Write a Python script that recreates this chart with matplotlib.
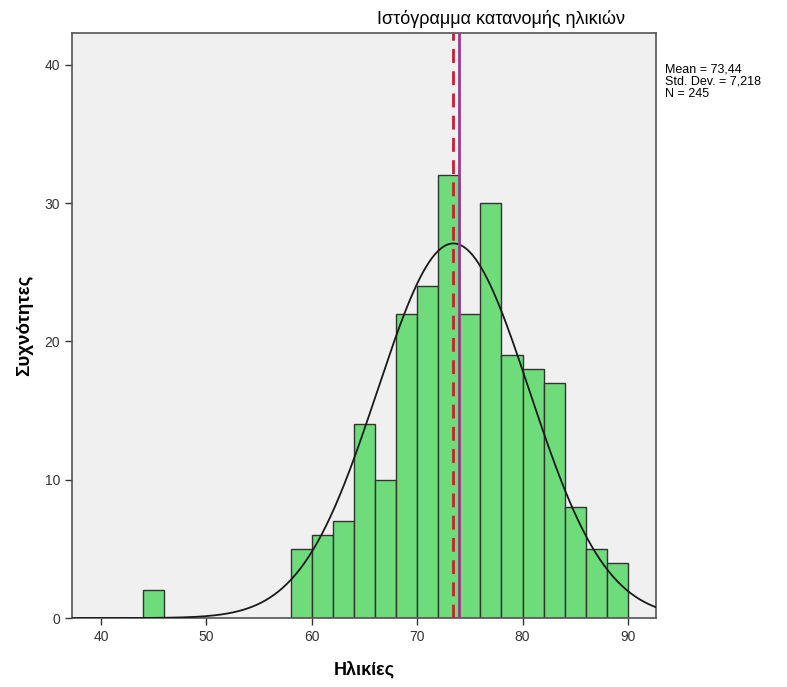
import numpy as np
import matplotlib
matplotlib.use("Agg")
import matplotlib.pyplot as plt

plt.rcParams['font.family'] = ['Liberation Sans', 'DejaVu Sans']

# histogram bins (left edges, width 2) and counts
bin_left = [44, 58, 60, 62, 64, 66, 68, 70, 72, 74, 76, 78, 80, 82, 84, 86, 88]
counts = [2, 5, 6, 7, 14, 10, 22, 24, 32, 22, 30, 19, 18, 17, 8, 5, 4]
bin_width = 2

mean = 73.44
std = 7.218
n = 245
median = 74

fig = plt.figure(figsize=(7.87, 6.87), dpi=100)
ax = fig.add_axes([0.0915, 0.1004, 0.742, 0.8516])
ax.set_facecolor('#F0F0F0')

ax.bar(bin_left, counts, width=bin_width, align='edge',
       color='#6FDC7C', edgecolor='#333333', linewidth=1.0, zorder=2)

# normal curve scaled to counts
xs = np.linspace(37.25, 92.66, 400)
ys = n * bin_width / (std * np.sqrt(2 * np.pi)) * np.exp(-0.5 * ((xs - mean) / std) ** 2)
ax.plot(xs, ys, color='#1a1a1a', linewidth=1.3, zorder=3)

ax.axvline(median, color='#9A3A8A', linewidth=2.0, zorder=4)
ax.axvline(mean, color='#C8202E', linewidth=2.0, linestyle=(0, (5, 3)), zorder=5)

ax.set_xlim(37.25, 92.66)
ax.set_ylim(0, 42.3)
ax.set_xticks([40, 50, 60, 70, 80, 90])
ax.set_yticks([0, 10, 20, 30, 40])
ax.tick_params(direction='out', length=5, width=1, colors='#333333', labelsize=10)
for s in ax.spines.values():
    s.set_color('#555555')
    s.set_linewidth(1.2)

ax.set_xlabel('Ηλικίες', fontsize=13, fontweight='bold', labelpad=12)
ax.set_ylabel('Συχνότητες', fontsize=13.5, fontweight='bold', labelpad=8)

fig.text(0.637, 0.972, 'Ιστόγραμμα κατανομής ηλικιών', ha='center', va='center', fontsize=13)
fig.text(0.845, 0.908, 'Mean = 73,44\nStd. Dev. = 7,218\nN = 245',
         ha='left', va='top', fontsize=9, linespacing=1.05)

fig.savefig('out.png', dpi=100)
